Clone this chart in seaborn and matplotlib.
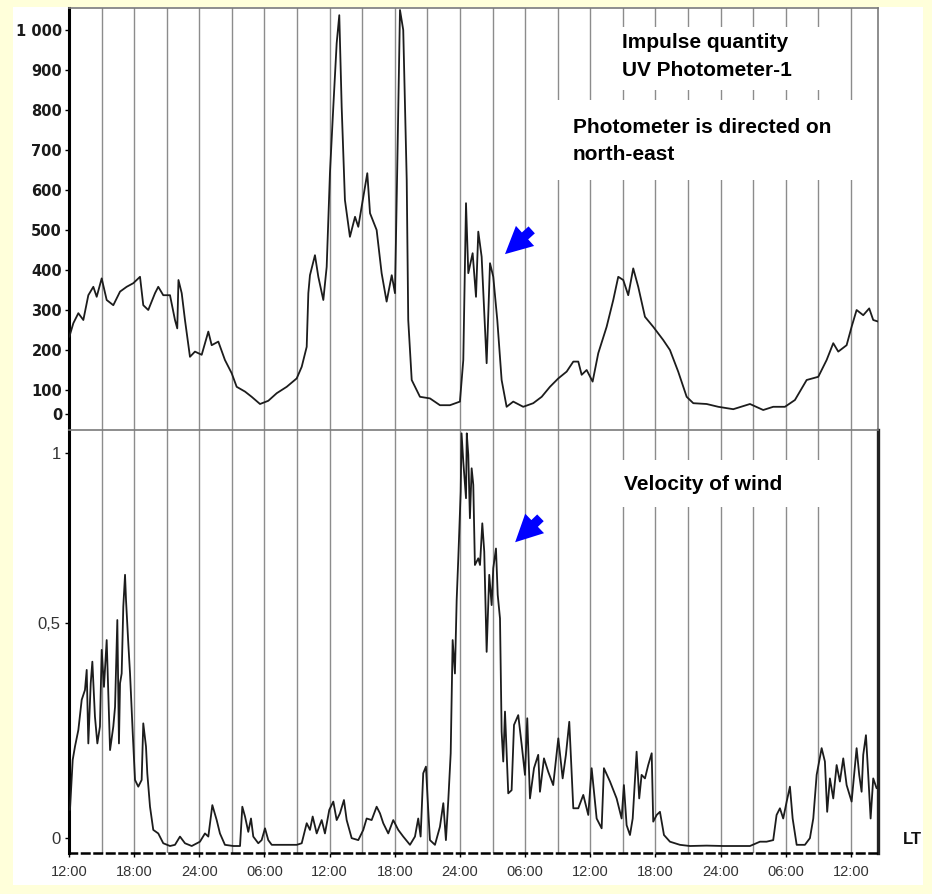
import matplotlib
matplotlib.use("Agg")
import matplotlib.pyplot as plt
import seaborn as sns
import pandas as pd
from matplotlib.patches import Rectangle

# ---------------- data (hours since 12:00 of the first day) ----------------
uv_hours = [0.03, 0.40, 0.86, 1.32, 1.78, 2.24, 2.55, 3.01, 3.47, 4.08, 4.70, 5.31, 5.92,
            6.54, 6.84, 7.30, 7.92, 8.22, 8.68, 9.30, 9.76, 9.97, 10.08, 10.38, 10.68,
            11.14, 11.60, 12.22, 12.83, 13.14, 13.75, 14.36, 14.98, 15.44, 16.21, 16.82,
            17.59, 18.35, 19.13, 20.05, 20.97, 21.43, 21.89, 22.04, 22.19, 22.65, 22.96,
            23.42, 23.73, 24.03, 24.34, 24.65, 24.89, 25.11, 25.41, 25.87, 26.34, 26.64,
            27.10, 27.47, 27.72, 28.33, 28.79, 29.25, 29.72, 30.02, 30.23, 30.48, 30.78,
            31.10, 31.24, 31.56, 32.32, 33.24, 34.16, 35.08, 36.00, 36.31, 36.56, 36.77,
            37.17, 37.48, 37.69, 38.00, 38.46, 38.77, 39.07, 39.44, 39.84, 40.30, 40.91,
            41.83, 42.75, 43.53, 44.29, 45.06, 45.83, 46.44, 46.90, 47.21, 47.67, 48.22,
            48.74, 49.51, 50.12, 50.58, 51.04, 51.50, 51.96, 52.42, 53.04, 53.80, 54.72,
            55.34, 56.10, 56.88, 57.49, 58.72, 59.79, 61.17, 62.71, 63.93, 64.85, 65.93,
            66.85, 67.93, 69.00, 69.77, 70.38, 70.84, 71.61, 72.07, 72.53, 73.14, 73.69,
            74.06, 74.52]
uv_counts = [233, 267, 292, 275, 337, 358, 333, 379, 325, 312, 346, 358, 367,
             383, 312, 300, 342, 358, 337, 337, 275, 254, 375, 342, 275,
             183, 196, 188, 246, 212, 221, 175, 142, 108, 96, 83,
             65, 73, 92, 108, 129, 158, 208, 342, 387, 437, 383,
             325, 408, 642, 808, 967, 1037, 808, 575, 483, 533, 508,
             583, 642, 542, 500, 392, 321, 387, 342, 658, 1050, 1000,
             625, 275, 125, 83, 79, 62, 62, 71, 175, 567, 392,
             442, 333, 496, 433, 167, 417, 383, 275, 125, 58, 71,
             58, 67, 83, 108, 129, 146, 171, 171, 138, 150, 121,
             192, 258, 325, 383, 375, 337, 404, 358, 283, 258, 225,
             200, 146, 83, 67, 65, 58, 52, 65, 50, 58, 58,
             75, 125, 133, 175, 217, 196, 212, 258, 300, 287, 304,
             275, 271]

wind_hours = [0.09, 0.34, 0.55, 0.86, 1.17, 1.47, 1.63, 1.78, 2.00, 2.15, 2.39, 2.61, 2.85,
              3.01, 3.22, 3.47, 3.78, 4.08, 4.24, 4.45, 4.60, 4.70, 4.85, 5.00, 5.16, 5.25,
              5.46, 5.62, 5.87, 6.08, 6.38, 6.69, 6.84, 7.09, 7.21, 7.46, 7.76, 8.22, 8.68,
              9.30, 9.76, 10.22, 10.68, 11.30, 12.06, 12.52, 12.83, 13.20, 13.60, 13.90,
              14.36, 15.13, 15.75, 15.96, 16.21, 16.51, 16.76, 16.97, 17.43, 17.74, 18.05,
              18.35, 18.67, 20.97, 21.43, 21.89, 22.19, 22.44, 22.81, 23.27, 23.57, 23.97,
              24.34, 24.65, 24.95, 25.32, 25.57, 26.03, 26.64, 27.10, 27.41, 27.87, 28.33,
              28.64, 28.94, 29.40, 29.86, 30.32, 30.78, 31.40, 31.86, 32.16, 32.38, 32.62,
              32.87, 33.08, 33.24, 33.70, 34.16, 34.47, 34.71, 34.93, 35.15, 35.33, 35.54,
              35.70, 35.85, 36.07, 36.15, 36.31, 36.56, 36.63, 36.77, 36.92, 37.08, 37.23,
              37.38, 37.69, 37.85, 38.06, 38.24, 38.46, 38.70, 38.92, 39.07, 39.32, 39.48,
              39.69, 39.84, 39.99, 40.15, 40.45, 40.76, 40.98, 41.37, 41.69, 41.99, 42.20,
              42.45, 42.82, 43.21, 43.37, 43.74, 44.13, 44.59, 45.06, 45.46, 45.76, 46.07,
              46.44, 46.90, 47.36, 47.82, 48.13, 48.59, 49.05, 49.26, 49.82, 50.43, 50.89,
              51.10, 51.35, 51.66, 51.91, 52.27, 52.51, 52.73, 53.04, 53.34, 53.66, 53.80,
              54.12, 54.42, 54.79, 55.34, 56.26, 57.18, 58.72, 60.25, 62.71, 63.63, 64.24,
              64.85, 65.16, 65.47, 65.77, 66.09, 66.39, 66.64, 67.01, 67.77, 68.23, 68.54,
              68.85, 69.31, 69.61, 69.82, 70.07, 70.38, 70.69, 70.99, 71.30, 71.61, 72.07,
              72.53, 72.77, 72.99, 73.14, 73.39, 73.60, 73.82, 74.06, 74.37]
wind_speed = [0.092, 0.219, 0.253, 0.295, 0.372, 0.397, 0.448, 0.261, 0.414, 0.469, 0.329, 0.261, 0.304,
              0.499, 0.405, 0.524, 0.244, 0.304, 0.354, 0.575, 0.261, 0.414, 0.439, 0.609, 0.690, 0.626,
              0.516, 0.439, 0.287, 0.168, 0.151, 0.168, 0.312, 0.253, 0.185, 0.100, 0.041, 0.032, 0.007,
              0.0, 0.003, 0.024, 0.007, 0.0, 0.011, 0.032, 0.024, 0.104, 0.066, 0.032,
              0.003, 0.0, 0.0, 0.100, 0.075, 0.036, 0.070, 0.024, 0.007, 0.015, 0.045,
              0.015, 0.003, 0.003, 0.007, 0.058, 0.041, 0.075, 0.032, 0.066, 0.032, 0.092,
              0.113, 0.066, 0.083, 0.117, 0.066, 0.020, 0.015, 0.041, 0.070, 0.066, 0.100,
              0.083, 0.058, 0.032, 0.066, 0.041, 0.024, 0.003, 0.024, 0.070, 0.024, 0.185,
              0.202, 0.092, 0.015, 0.003, 0.049, 0.109, 0.015, 0.117, 0.236, 0.524, 0.439,
              0.626, 0.732, 0.901, 1.05, 0.978, 0.885, 1.05, 0.995, 0.834, 0.961, 0.919,
              0.715, 0.732, 0.715, 0.821, 0.749, 0.494, 0.690, 0.613, 0.707, 0.757, 0.639,
              0.579, 0.291, 0.215, 0.342, 0.134, 0.142, 0.308, 0.333, 0.257, 0.181, 0.325,
              0.121, 0.198, 0.232, 0.138, 0.223, 0.189, 0.155, 0.274, 0.172, 0.232, 0.316,
              0.096, 0.096, 0.130, 0.079, 0.198, 0.070, 0.045, 0.198, 0.164, 0.121, 0.070,
              0.155, 0.053, 0.028, 0.070, 0.240, 0.121, 0.181, 0.172, 0.206, 0.236, 0.062,
              0.079, 0.087, 0.028, 0.011, 0.003, 0.0, 0.001, 0.0, 0.0, 0.011, 0.011,
              0.015, 0.079, 0.096, 0.070, 0.113, 0.151, 0.070, 0.003, 0.003, 0.020, 0.070,
              0.181, 0.249, 0.215, 0.087, 0.172, 0.121, 0.206, 0.164, 0.223, 0.155, 0.113,
              0.249, 0.181, 0.138, 0.232, 0.282, 0.181, 0.070, 0.172, 0.147]

uv_tick_values = [40, 100, 200, 300, 400, 500, 600, 700, 800, 900, 1000]
uv_tick_labels = ["0", "100", "200", "300", "400", "500", "600", "700", "800", "900", "1 000"]
wind_tick_values = [0.02, 0.567, 1.0]
wind_tick_labels = ["0", "0,5", "1"]
time_tick_hours = [0, 6, 12, 18, 24, 30, 36, 42, 48, 54, 60, 66, 72]
time_tick_labels = ["12:00", "18:00", "24:00", "06:00", "12:00", "18:00", "24:00",
                    "06:00", "12:00", "18:00", "24:00", "06:00", "12:00"]
grid_hours = list(range(3, 73, 3))

uv_df = pd.DataFrame({"hour": uv_hours, "count": uv_counts})
wind_df = pd.DataFrame({"hour": wind_hours, "speed": wind_speed})

# ---------------- figure ----------------
sns.set_style("white")
plt.rcParams["font.family"] = ["Liberation Sans", "DejaVu Sans"]

W, H = 932, 894
fig = plt.figure(figsize=(W / 100, H / 100), dpi=100, facecolor="#FFFFDA")
frame = Rectangle((13 / W, (H - 885) / H), (923 - 13) / W, (885 - 7) / H,
                  transform=fig.transFigure, facecolor="white", edgecolor="none", zorder=-10)
fig.add_artist(frame)

ax1 = fig.add_axes([69 / W, (H - 430) / H, 809 / W, 422 / H])
ax2 = fig.add_axes([69 / W, (H - 853) / H, 809 / W, 423 / H])

grid_col = "#8c8c8c"
line_col = "#1c1c1c"

for ax in (ax1, ax2):
    ax.set_facecolor("none")
    ax.patch.set_alpha(0)
    for h in grid_hours:
        ax.axvline(h, color=grid_col, lw=1.0, zorder=1)

# white boxes behind the texts
ax1.add_patch(Rectangle((0.646, 0.806), 0.319, 0.149, transform=ax1.transAxes,
                        facecolor="white", edgecolor="none", zorder=2))
ax1.add_patch(Rectangle((0.595, 0.592), 0.404, 0.190, transform=ax1.transAxes,
                        facecolor="white", edgecolor="none", zorder=2))
ax2.add_patch(Rectangle((0.663, 0.818), 0.284, 0.111, transform=ax2.transAxes,
                        facecolor="white", edgecolor="none", zorder=2))

sns.lineplot(data=uv_df, x="hour", y="count", ax=ax1, color=line_col, lw=1.3,
             estimator=None, zorder=3)
sns.lineplot(data=wind_df, x="hour", y="speed", ax=ax2, color=line_col, lw=1.3,
             estimator=None, zorder=3)

ax1.set_ylim(0, 1055)
ax2.set_ylim(-0.0178, 1.0585)
ax1.set_xlim(0, 74.5)
ax2.set_xlim(0, 74.5)

for ax in (ax1, ax2):
    ax.set_xlabel("")
    ax.set_ylabel("")

# top axis styling
ax1.set_xticks([])
ax1.set_yticks(uv_tick_values)
ax1.set_yticklabels(uv_tick_labels, fontfamily="DejaVu Sans", fontweight="bold",
                    fontsize=10.5, color="#1a1a1a")
ax1.tick_params(axis="y", length=3, width=1, color="black", pad=2, left=True)
ax1.spines["left"].set_color("black")
ax1.spines["left"].set_linewidth(2.2)
for s in ("top", "right"):
    ax1.spines[s].set_color("#7a7a7a")
    ax1.spines[s].set_linewidth(1.2)
ax1.spines["bottom"].set_visible(False)

# bottom axis styling
ax2.set_yticks(wind_tick_values)
ax2.set_yticklabels(wind_tick_labels, fontsize=12, color="#333333")
ax2.tick_params(axis="y", length=3, width=1, color="black", pad=3, left=True)
ax2.set_xticks(time_tick_hours)
ax2.set_xticklabels(time_tick_labels, fontsize=10.5, color="#333333")
ax2.tick_params(axis="x", length=3, width=1, color="black", pad=6, bottom=True)
ax2.spines["left"].set_color("black")
ax2.spines["left"].set_linewidth(2.2)
ax2.spines["right"].set_color("#222222")
ax2.spines["right"].set_linewidth(2.4)
ax2.spines["top"].set_color("#7a7a7a")
ax2.spines["top"].set_linewidth(1.2)
ax2.spines["bottom"].set_color("black")
ax2.spines["bottom"].set_linewidth(1.8)
ax2.spines["bottom"].set_linestyle((0, (3, 2)))

# texts
txt = dict(fontsize=15, fontweight="bold", color="black", ha="left", va="center", zorder=5)
ax1.text(0.684, 0.919, "Impulse quantity", transform=ax1.transAxes, **txt)
ax1.text(0.684, 0.853, "UV Photometer-1", transform=ax1.transAxes, **txt)
ax1.text(0.623, 0.716, "Photometer is directed on", transform=ax1.transAxes, **txt)
ax1.text(0.623, 0.652, "north-east", transform=ax1.transAxes, **txt)
ax2.text(0.686, 0.872, "Velocity of wind", transform=ax2.transAxes, **txt)

fig.text(912 / W, 1 - 840 / H, "LT", fontsize=12, fontweight="bold", ha="center",
         va="center", color="#111111")

# blue arrows
arrow_props = dict(arrowstyle="simple,head_length=1.3,head_width=1.3,tail_width=0.45",
                   color="#0000FF", lw=0, mutation_scale=15)
ax1.annotate("", xy=(39.96, 435), xytext=(42.8, 505), arrowprops=arrow_props, zorder=6)
ax2.annotate("", xy=(40.9, 0.768), xytext=(43.6, 0.84), arrowprops=arrow_props, zorder=6)

fig.savefig("out.png", dpi=100, facecolor=fig.get_facecolor())
